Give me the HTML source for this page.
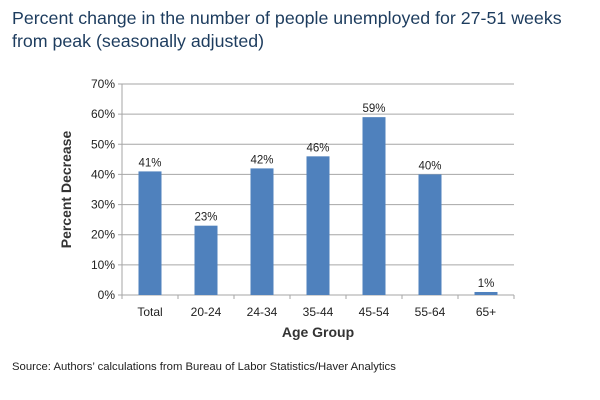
<!DOCTYPE html>
<html><head><meta charset="utf-8"><style>
body{margin:0;background:#fff;width:600px;height:400px;overflow:hidden;font-family:"Liberation Sans",sans-serif}
#title{position:absolute;left:12px;top:7px;font-size:17.8px;line-height:23px;color:#1d3c5e}
#src{position:absolute;left:12px;top:361px;font-size:11.3px;color:#222}
svg{position:absolute;left:0;top:0}
</style></head><body>
<div id="title">Percent change in the number of people unemployed for 27-51 weeks<br>from peak (seasonally adjusted)</div>
<svg id="chart" width="600" height="400"></svg>
<div id="src">Source: Authors’ calculations from Bureau of Labor Statistics/Haver Analytics</div>
<script>
const categories=["Total","20-24","24-34","35-44","45-54","55-64","65+"];
const values=[41,23,42,46,59,40,1];
const valueLabels=["41%","23%","42%","46%","59%","40%","1%"];
const yTicks=[0,10,20,30,40,50,60,70];
const L=122,R=514,T=84,B=295,ymax=70;
const y=v=>B-(v/ymax)*(B-T);
const bw=(R-L)/categories.length;
const x=i=>L+bw*i;
const svg=document.getElementById('chart');
const NS='http://www.w3.org/2000/svg';
function mk(t,a){const e=document.createElementNS(NS,t);for(const k in a)e.setAttribute(k,a[k]);svg.appendChild(e);return e;}
yTicks.forEach(t=>{
 const g=mk('line',{x1:L-4,x2:R,y1:y(t),y2:y(t),stroke:'#a6a6a6','stroke-width':1});
 
 
 const tx=mk('text',{x:L-7,y:y(t)+4,'text-anchor':'end','font-size':12,fill:'#222'});
 tx.textContent=t+'%';
 
 
});
const ax=mk('line',{x1:L,x2:L,y1:T,y2:B,stroke:'#a6a6a6'});


for(let i=0;i<=categories.length;i++){
 const tk=mk('line',{x1:x(i),x2:x(i),y1:B,y2:B+4,stroke:'#a6a6a6'});
 
 
}
categories.forEach((c,i)=>{
 const cx=x(i)+bw/2;
 const b=mk('rect',{x:cx-11.5,y:y(values[i]),width:23,height:B-y(values[i]),fill:'#4f81bd'});
 
 
 const lb=mk('text',{x:cx,y:y(values[i])-5,'text-anchor':'middle','font-size':11.5,fill:'#222'});
 lb.textContent=valueLabels[i];
 
 
 const cl=mk('text',{x:cx,y:B+21,'text-anchor':'middle','font-size':12,fill:'#222'});
 cl.textContent=c;
 
 
});
const xt=mk('text',{x:(L+R)/2,y:337,'text-anchor':'middle','font-size':14,'font-weight':'bold',fill:'#333'});
xt.textContent='Age Group';


const yt=mk('text',{x:0,y:0,'text-anchor':'middle','font-size':14,'font-weight':'bold',fill:'#333',transform:'translate(71,'+((T+B)/2)+') rotate(-90)'});
yt.textContent='Percent Decrease';


</script>
</body></html>
